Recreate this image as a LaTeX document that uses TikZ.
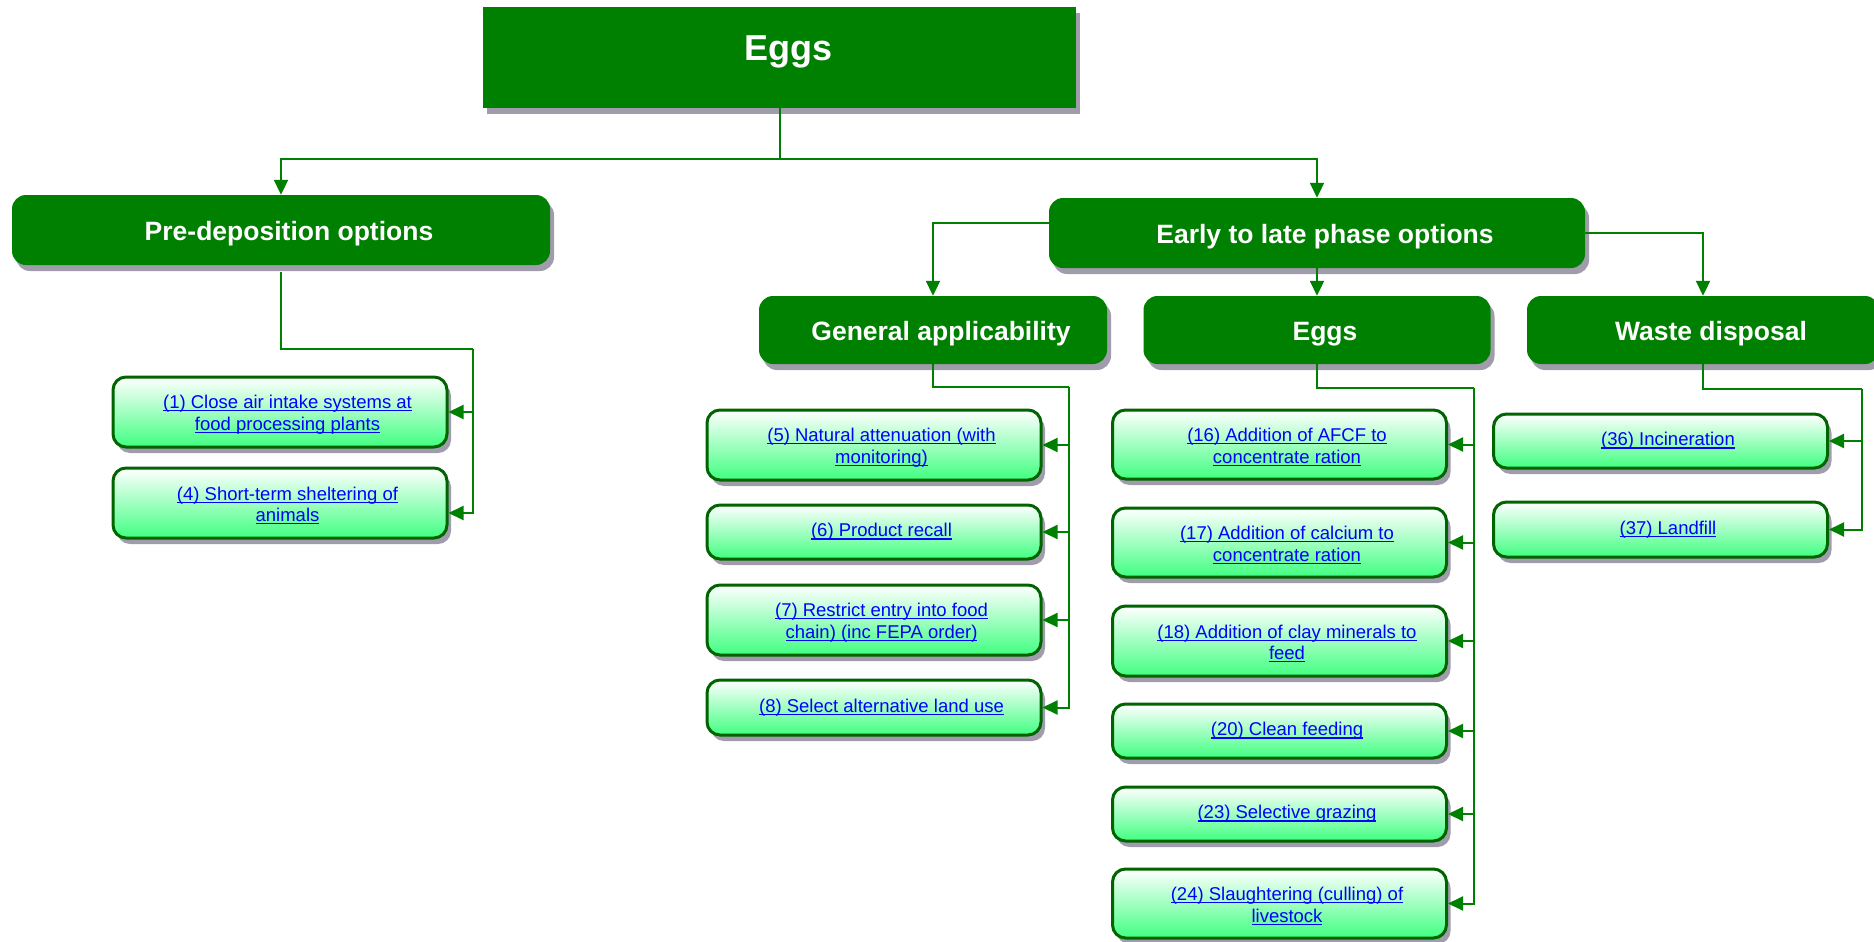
\documentclass[tikz,border=0pt]{standalone}
\usepackage{fontspec}
\setmainfont{Liberation Sans}
\usetikzlibrary{arrows.meta,shadows}

\definecolor{hdrgreen}{RGB}{0,128,0}
\definecolor{wiregreen}{RGB}{0,128,0}
\definecolor{itemborder}{RGB}{0,100,0}
\definecolor{itemgreen}{RGB}{64,255,128}
\definecolor{shadowgray}{RGB}{160,156,172}

\newcommand{\ulink}[2][-2.5pt]{\setbox0\hbox{#2}%
  \raisebox{#1}[\height][\depth]{\hspace*{15pt}\rlap{\vrule width\wd0 height-1.6pt depth 2.9pt}\box0}}

\tikzset{
  hdr/.style={fill=hdrgreen,text=white,inner sep=0pt,rounded corners=14pt,
    font=\fontsize{26.5}{30}\selectfont\bfseries,text height=25pt,text depth=5pt,
    execute at begin node={\hspace*{16pt}},
    drop shadow={shadow xshift=4pt,shadow yshift=-6pt,fill=shadowgray,opacity=1}},
  item/.style={draw=itemborder,line width=3pt,rounded corners=13pt,
    top color=white,bottom color=itemgreen,inner sep=0pt,align=center,
    minimum width=334pt,text=blue,font=\fontsize{18.5}{21.5}\selectfont,
    drop shadow={shadow xshift=4pt,shadow yshift=-6pt,fill=shadowgray,opacity=1}},
  wire/.style={draw=wiregreen,line width=2pt},
  link/.style={wire,-{Triangle[length=15pt,width=14pt]}}
}

\begin{document}
\begin{tikzpicture}[x=1pt,y=-1pt]
\useasboundingbox (0,0) rectangle (1874,942);

\node[fill=hdrgreen,text=white,inner sep=0pt,minimum width=593pt,minimum height=101pt,
  text height=10pt,text depth=5pt,font=\fontsize{36}{40}\selectfont\bfseries,
  execute at begin node={\hspace*{18pt}},
  drop shadow={shadow xshift=4pt,shadow yshift=-6pt,fill=shadowgray,opacity=1}]
  (top) at (779.5,57.5) {Eggs};

\node[hdr,minimum width=538pt,minimum height=70pt] (pre) at (281,230) {Pre-deposition options};
\node[hdr,minimum width=536pt,minimum height=70pt] (early) at (1317,233) {Early to late phase options};
\node[hdr,minimum width=348pt,minimum height=68pt] (gen) at (933,330) {General applicability};
\node[hdr,minimum width=347pt,minimum height=68pt] (eggs) at (1317,330) {Eggs};
\node[hdr,minimum width=352pt,minimum height=68pt] (waste) at (1703,330) {Waste disposal};

\node[item,minimum height=70pt] (c1) at (280,412) {\ulink{(1) Close air intake systems at}\\\ulink{food processing plants}};
\node[item,minimum height=70pt] (c4) at (280,503) {\ulink{(4) Short-term sheltering of}\\\ulink{animals}};

\node[item,minimum height=70pt] (c5) at (874,445) {\ulink{(5) Natural attenuation (with}\\\ulink{monitoring)}};
\node[item,minimum height=54pt] (c6) at (874,532) {\ulink[0pt]{(6) Product recall}};
\node[item,minimum height=70pt] (c7) at (874,620) {\ulink{(7) Restrict entry into food}\\\ulink{chain) (inc FEPA order)}};
\node[item,minimum height=55pt] (c8) at (874,707.5) {\ulink[0pt]{(8) Select alternative land use}};

\node[item,minimum height=69pt] (c16) at (1279.5,444.5) {\ulink{(16) Addition of AFCF to}\\\ulink{concentrate ration}};
\node[item,minimum height=69pt] (c17) at (1279.5,542.5) {\ulink{(17) Addition of calcium to}\\\ulink{concentrate ration}};
\node[item,minimum height=70pt] (c18) at (1279.5,641) {\ulink{(18) Addition of clay minerals to}\\\ulink{feed}};
\node[item,minimum height=54pt] (c20) at (1279.5,731) {\ulink[0pt]{(20) Clean feeding}};
\node[item,minimum height=54pt] (c23) at (1279.5,814) {\ulink[0pt]{(23) Selective grazing}};
\node[item,minimum height=69pt] (c24) at (1279.5,903.5) {\ulink{(24) Slaughtering (culling) of}\\\ulink{livestock}};

\node[item,minimum height=54pt] (c36) at (1660.5,441) {\ulink[0pt]{(36) Incineration}};
\node[item,minimum height=55pt] (c37) at (1660.5,529.5) {\ulink[0pt]{(37) Landfill}};

\coordinate (bus) at (779.5,159);
\draw[wire] (top.south) -- (bus);
\draw[link] (bus) -| (pre.north);
\draw[link] (bus) -| (early.north);

\draw[link] ([yshift=10pt]early.west) -| (gen.north);
\draw[link] (early.south) -- (eggs.north);
\draw[link] (early.east) -| (waste.north);

\coordinate (pj) at (473,349);
\draw[wire] ([yshift=-7pt]pre.south) |- (pj);
\draw[link] (pj) |- (c1.east);
\draw[link] (pj) |- ([yshift=-10pt]c4.east);

\coordinate (gj) at (1069,387);
\draw[wire] (gen.south) |- (gj);
\draw[link] (gj) |- (c5.east);
\draw[link] (gj) |- (c6.east);
\draw[link] (gj) |- (c7.east);
\draw[link] (gj) |- (c8.east);

\coordinate (ej) at (1474,388);
\draw[wire] (eggs.south) |- (ej);
\draw[link] (ej) |- (c16.east);
\draw[link] (ej) |- (c17.east);
\draw[link] (ej) |- (c18.east);
\draw[link] (ej) |- (c20.east);
\draw[link] (ej) |- (c23.east);
\draw[link] (ej) |- (c24.east);

\coordinate (wj) at (1862,389);
\draw[wire] (waste.south) |- (wj);
\draw[link] (wj) |- (c36.east);
\draw[link] (wj) |- (c37.east);

\end{tikzpicture}
\end{document}
